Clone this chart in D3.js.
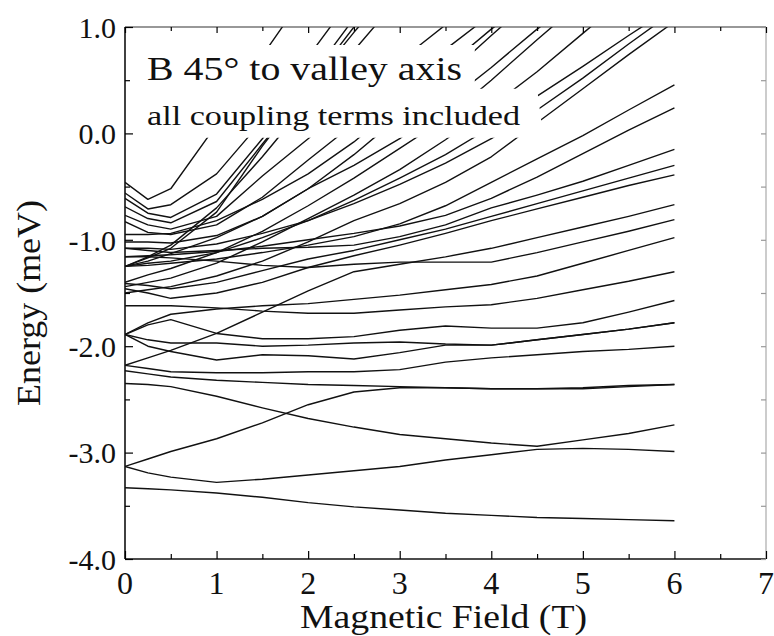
<!DOCTYPE html>
<html><head><meta charset="utf-8">
<script src="https://cdn.jsdelivr.net/npm/d3@7"></script>
<style>
html,body{margin:0;padding:0;background:#fff;}
svg{display:block;}
</style></head>
<body>
<svg id="chart" width="774" height="636"></svg>
<script>
// ---- data ----
const fieldNodes = [0, 0.25, 0.5, 1, 1.5, 2, 2.5, 3, 3.5, 4, 4.5, 5, 5.5, 6];
const xTicks = [0, 1, 2, 3, 4, 5, 6, 7];
const yTicks = [1.0, 0.0, -1.0, -2.0, -3.0, -4.0];
const yTickLabels = ["1.0", "0.0", "-1.0", "-2.0", "-3.0", "-4.0"];
const titleLine1 = "B 45\u00B0 to valley axis";
const titleLine2 = "all coupling terms included";
const xTitle = "Magnetic Field (T)";
const yTitle = "Energy (meV)";

// energy levels (meV) at the field nodes; steep levels leave through the top
const U1  = [-0.46, -0.62, -0.52, 0.08, 0.73, 1.35];
const U2  = [-0.56, -0.71, -0.67, -0.38, 0.12, 0.72, 1.3];
const U3  = [-0.61, -0.75, -0.79, -0.57, -0.05, 0.50, 1.08];
const U4  = [-0.69, -0.80, -0.84, -0.64, -0.10, 0.42, 0.95, 1.45];
const U5  = [-1.25, -1.17, -1.08, -0.74, -0.12, 0.44, 1.0, 1.5];
const U6  = [-1.25, -1.16, -1.05, -0.70, -0.22, 0.30, 0.78, 1.28];
const U7  = [-0.77, -0.86, -0.90, -0.78, -0.40, -0.05, 0.32, 0.68, 1.02, 1.4];
const U8  = [-0.83, -0.93, -0.95, -0.86, -0.60, -0.25, 0.09, 0.45, 0.79, 1.12];
const U9  = [-0.95, -0.95, -0.94, -0.82, -0.62, -0.38, -0.08, 0.28, 0.62, 0.98, 1.3];
const U10 = [-1.02, -1.02, -1.03, -0.96, -0.78, -0.52, -0.20, 0.16, 0.53, 0.92, 1.3];
const U11 = [-1.25, -1.20, -1.13, -0.98, -0.78, -0.52, -0.30, -0.05, 0.28, 0.62, 0.98, 1.3];
const U12 = [-1.40, -1.33, -1.27, -1.12, -0.92, -0.68, -0.42, -0.14, 0.14, 0.50, 0.88, 1.25];
const U13 = [-1.44, -1.40, -1.36, -1.22, -1.02, -0.80, -0.58, -0.34, -0.06, 0.25, 0.58, 0.94, 1.3];
const U14 = [-1.25, -1.22, -1.20, -1.12, -0.98, -0.82, -0.63, -0.42, -0.20, 0.06, 0.35, 0.63, 0.92, 1.2];
const U15 = [-1.08, -1.08, -1.09, -1.04, -0.94, -0.82, -0.66, -0.48, -0.28, -0.05, 0.22, 0.52, 0.84, 1.15];
const U16 = [-1.50, -1.47, -1.44, -1.34, -1.20, -1.02, -0.82, -0.66, -0.46, -0.22, 0.10, 0.42, 0.74, 1.05];
const R1  = [-1.25, -1.24, -1.22, -1.18, -1.12, -1.05, -0.97, -0.85, -0.68, -0.46, -0.24, -0.02, 0.22, 0.455];
const R2  = [-1.16, -1.15, -1.14, -1.11, -1.06, -1.00, -0.94, -0.87, -0.77, -0.61, -0.41, -0.19, 0.03, 0.24];
const R3  = [-1.08, -1.10, -1.12, -1.10, -1.08, -1.07, -1.05, -0.97, -0.86, -0.70, -0.58, -0.45, -0.30, -0.15];
const R4  = [-1.41, -1.43, -1.46, -1.40, -1.29, -1.18, -1.10, -1.00, -0.90, -0.78, -0.66, -0.54, -0.42, -0.30];
const R5  = [-1.46, -1.50, -1.55, -1.50, -1.40, -1.26, -1.15, -1.05, -0.94, -0.82, -0.71, -0.60, -0.49, -0.39];
const R6  = [-2.18, -2.11, -2.04, -1.88, -1.68, -1.48, -1.30, -1.23, -1.16, -1.08, -0.98, -0.88, -0.78, -0.67];
const R7  = [-1.16, -1.16, -1.17, -1.20, -1.24, -1.26, -1.23, -1.21, -1.21, -1.21, -1.12, -1.02, -0.92, -0.81];
const R8  = [-1.89, -1.78, -1.70, -1.65, -1.62, -1.60, -1.56, -1.52, -1.47, -1.42, -1.34, -1.22, -1.10, -0.98];
const R9  = [-1.62, -1.62, -1.62, -1.64, -1.67, -1.69, -1.69, -1.66, -1.63, -1.61, -1.55, -1.47, -1.39, -1.30];
const R10 = [-1.89, -1.80, -1.75, -1.88, -1.93, -1.93, -1.91, -1.85, -1.81, -1.83, -1.83, -1.78, -1.68, -1.57];
const R11 = [-1.89, -1.94, -1.97, -1.97, -2.00, -1.99, -1.97, -1.96, -1.98, -1.99, -1.94, -1.89, -1.84, -1.78];
const R11b = [-1.89, -2.00, -2.05, -2.13, -2.08, -2.09, -2.12, -2.06, -1.99, -1.99, -1.94, -1.89, -1.84, -1.78];
const R12 = [-2.18, -2.21, -2.24, -2.25, -2.25, -2.24, -2.24, -2.22, -2.15, -2.11, -2.08, -2.05, -2.03, -2.00];
const R13 = [-2.23, -2.26, -2.29, -2.32, -2.34, -2.36, -2.37, -2.38, -2.39, -2.40, -2.40, -2.40, -2.38, -2.36];
const L3  = [-3.13, -3.06, -2.99, -2.87, -2.72, -2.55, -2.43, -2.39, -2.39, -2.40, -2.40, -2.39, -2.37, -2.36];
const L4  = [-2.35, -2.36, -2.38, -2.47, -2.58, -2.68, -2.76, -2.83, -2.87, -2.91, -2.94, -2.88, -2.82, -2.74];
const L2  = [-3.13, -3.19, -3.23, -3.28, -3.25, -3.21, -3.17, -3.13, -3.07, -3.02, -2.97, -2.96, -2.97, -2.99];
const L1  = [-3.33, -3.34, -3.35, -3.38, -3.42, -3.47, -3.51, -3.54, -3.57, -3.59, -3.61, -3.62, -3.63, -3.64];

const levels = [U1,U2,U3,U4,U5,U6,U7,U8,U9,U10,U11,U12,U13,U14,U15,U16,
                R1,R2,R3,R4,R5,R6,R7,R8,R9,R10,R11,R11b,R12,R13,L3,L4,L2,L1];

// region hidden behind the inset text (field, energy)
const textMask = [[0,0.83],[3.82,0.83],[3.82,0.42],[4.5,0.42],[4.56,0.02],[4.56,-0.04],[0,-0.04]];

// ---- layout ----
const FONT = "font-family:'Liberation Serif','Times New Roman',Times,serif;";
const svg = d3.select("#chart");
const x = d3.scaleLinear().domain([0, 7]).range([125, 766]);
const y = d3.scaleLinear().domain([-4, 1]).range([559, 27]);

svg.append("defs").append("clipPath").attr("id","plotclip")
  .append("rect").attr("x",125).attr("y",27).attr("width",641).attr("height",532);

const line = d3.line().x((d,i)=>x(fieldNodes[i])).y(d=>y(d));
const g = svg.append("g").attr("clip-path","url(#plotclip)");
g.selectAll("path.lvl").data(levels).enter().append("path")
  .attr("class","lvl")
  .attr("d", d=>line(d))
  .attr("fill","none").attr("stroke","#111").attr("stroke-width",1.4)
  .attr("stroke-linejoin","round");

// white mask behind text
svg.append("path")
  .attr("d", d3.line().x(d=>x(d[0])).y(d=>y(d[1]))(textMask) + "Z")
  .attr("fill","#fff").attr("stroke","none");

// axes frame
const frame = svg.append("g");
frame.append("line").attr("x1",x(0)).attr("x2",x(0)).attr("y1",y(1)).attr("y2",y(-4)).attr("stroke","#111").attr("stroke-width",1.6);
frame.append("line").attr("x1",x(0)).attr("x2",x(7)).attr("y1",y(-4)).attr("y2",y(-4)).attr("stroke","#111").attr("stroke-width",1.6);
frame.append("line").attr("x1",x(0)).attr("x2",x(7)).attr("y1",y(1)).attr("y2",y(1)).attr("stroke","#333").attr("stroke-width",1.1);
frame.append("line").attr("x1",x(7)).attr("x2",x(7)).attr("y1",y(1)).attr("y2",y(-4)).attr("stroke","#999").attr("stroke-width",1);

// ticks
const yMinor = d3.range(-3.5, 1, 1);
const xMinor = d3.range(0.5, 7, 1);
function tickGroup(axis, tx, ty){
  const gg = svg.append("g").attr("transform",`translate(${tx},${ty})`).call(axis);
  gg.select(".domain").remove();
  return gg;
}
tickGroup(d3.axisLeft(y).tickValues(yTicks).tickSize(-8).tickFormat(""), x(0), 0);
tickGroup(d3.axisLeft(y).tickValues(yMinor).tickSize(-5).tickFormat(""), x(0), 0);
tickGroup(d3.axisRight(y).tickValues(yTicks.concat(yMinor)).tickSize(-5).tickFormat(""), x(7), 0)
  .selectAll("line").attr("stroke","#999");
tickGroup(d3.axisBottom(x).tickValues(xTicks).tickSize(-8).tickFormat(""), 0, y(-4));
tickGroup(d3.axisBottom(x).tickValues(xMinor).tickSize(-5).tickFormat(""), 0, y(-4));
tickGroup(d3.axisTop(x).tickValues(xTicks).tickSize(-6).tickFormat(""), 0, y(1));
tickGroup(d3.axisTop(x).tickValues(xMinor).tickSize(-4).tickFormat(""), 0, y(1));
svg.selectAll(".tick line").attr("stroke-width",1.2);

// tick labels
svg.append("g").selectAll("text").data(yTicks).enter().append("text")
  .attr("x",116).attr("y",d=>y(d)).attr("dy","0.36em")
  .attr("text-anchor","end")
  .attr("style", FONT + "font-size:30px;fill:#111;")
  .text((d,i)=>yTickLabels[i]);
svg.append("g").selectAll("text").data(xTicks).enter().append("text")
  .attr("x",d=>x(d)).attr("y",594)
  .attr("text-anchor","middle")
  .attr("style", FONT + "font-size:32px;fill:#111;")
  .text(d=>String(d));

// axis titles
svg.append("text").attr("x",300).attr("y",628)
  .attr("style", FONT + "font-size:34px;fill:#111;")
  .attr("textLength",287).attr("lengthAdjust","spacingAndGlyphs").text(xTitle);
svg.append("text").attr("transform","translate(40,406) rotate(-90)")
  .attr("style", FONT + "font-size:34px;fill:#111;")
  .attr("textLength",206).attr("lengthAdjust","spacingAndGlyphs").text(yTitle);

// inset text
svg.append("text").attr("x",147).attr("y",80)
  .attr("style", FONT + "font-size:34px;fill:#111;")
  .attr("textLength",315).attr("lengthAdjust","spacingAndGlyphs").text(titleLine1);
svg.append("text").attr("x",147).attr("y",125)
  .attr("style", FONT + "font-size:28px;fill:#111;")
  .attr("textLength",373).attr("lengthAdjust","spacingAndGlyphs").text(titleLine2);
</script>
</body></html>
